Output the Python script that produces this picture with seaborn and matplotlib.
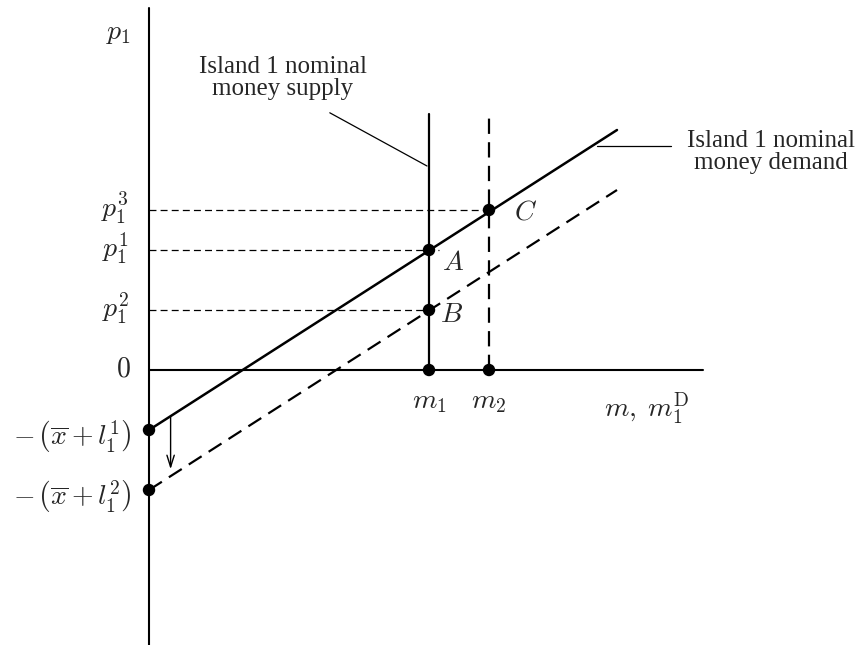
"""
Island 1 money market: nominal money supply vs nominal money demand,
and the shift of demand when l_1 rises from l_1^1 to l_1^2.

Saves out.png (860x645).
"""

import matplotlib.pyplot as plt
import seaborn as sns

# money quantities on the horizontal axis
m_levels = [7.0, 8.5]                     # m_1, m_2
m_labels = [r"$m_1$", r"$m_2$"]

# demand lines (start at m = 0, end at m_end)
m_end = 11.7
demand_old = [-1.5, 6.0]                  # solid: intercept -(x + l_1^1)
demand_new = [-3.0, 4.5]                  # dashed: intercept -(x + l_1^2)
intercept_labels = [r"$-\,\left(\overline{x}+l_1^1\right)$",
                    r"$-\,\left(\overline{x}+l_1^2\right)$"]

# equilibrium prices
price_names = ["A", "B", "C"]
price_m = [7.0, 7.0, 8.5]
price_p = [3.0, 1.5, 4.0]
price_ticks = [r"$p_1^1$", r"$p_1^2$", r"$p_1^3$"]

supply_top = 6.4

sns.set_theme(style="white")
plt.rcParams["font.family"] = ["Liberation Serif", "DejaVu Serif"]
plt.rcParams["mathtext.fontset"] = "cm"
plt.rcParams["lines.scale_dashes"] = False

INK = "black"
MATH_FS = 20
TEXT_FS = 18
THIN_DASH = (0, (5, 3))
THICK_DASH = (0, (11, 6))

fig = plt.figure(figsize=(8.6, 6.45), dpi=100)
ax = fig.add_axes([0, 0, 1, 1])
ax.set_xlim(-3.725, 17.775)
ax.set_ylim(-6.875, 9.25)
ax.set_axis_off()

# axes of the diagram
sns.lineplot(x=[0, 0], y=[-7.0, 9.05], color=INK, lw=1.5,
             estimator=None, sort=False, ax=ax)
sns.lineplot(x=[0, 13.85], y=[0, 0], color=INK, lw=1.5,
             estimator=None, sort=False, ax=ax)

# guide lines from price axis to the equilibria
sns.lineplot(x=[0, price_m[0] + 0.25], y=[price_p[0]] * 2, color=INK,
             lw=0.9, linestyle=THIN_DASH, estimator=None, sort=False, ax=ax)
sns.lineplot(x=[0, price_m[1]], y=[price_p[1]] * 2, color=INK,
             lw=0.9, linestyle=THIN_DASH, estimator=None, sort=False, ax=ax)
sns.lineplot(x=[0, price_m[2]], y=[price_p[2]] * 2, color=INK,
             lw=0.9, linestyle=THIN_DASH, estimator=None, sort=False, ax=ax)

# money supply: m_1 solid, m_2 dashed
sns.lineplot(x=[m_levels[0]] * 2, y=[0, supply_top], color=INK, lw=1.6,
             estimator=None, sort=False, ax=ax)
sns.lineplot(x=[m_levels[1]] * 2, y=[0, supply_top], color=INK, lw=1.6,
             linestyle=THICK_DASH, estimator=None, sort=False, ax=ax)

# money demand before and after
sns.lineplot(x=[0, m_end], y=demand_old, color=INK, lw=1.8,
             estimator=None, sort=False, ax=ax)
sns.lineplot(x=[0, m_end], y=demand_new, color=INK, lw=1.6,
             linestyle=THICK_DASH, estimator=None, sort=False, ax=ax)

# dots
dot_x = price_m + m_levels + [0, 0]
dot_y = price_p + [0, 0] + [demand_old[0], demand_new[0]]
sns.scatterplot(x=dot_x, y=dot_y, color=INK, s=80, edgecolor="none",
                zorder=5, ax=ax)

# shift arrow
ax.annotate("", xy=(0.54, -2.48), xytext=(0.54, -1.18),
            arrowprops=dict(arrowstyle="->,head_length=0.7,head_width=0.22",
                            color=INK, lw=1.0, shrinkA=0, shrinkB=0))

# price-axis labels
ax.text(-0.45, 8.4, r"$p_1$", fontsize=MATH_FS, ha="right", va="center")
ax.text(-0.45, 0, r"$0$", fontsize=MATH_FS, ha="right", va="center")
for p, lab in zip(price_p, price_ticks):
    ax.text(-0.5, p + 0.05, lab, fontsize=MATH_FS, ha="right", va="center")
for y0, lab in zip([demand_old[0], demand_new[0]], intercept_labels):
    ax.text(-0.45, y0 - 0.15, lab, fontsize=MATH_FS, ha="right", va="center")

# money-axis labels
for m, lab in zip(m_levels, m_labels):
    ax.text(m, -0.5, lab, fontsize=MATH_FS, ha="center", va="top")
ax.text(12.45, -0.5, r"$m,\;m_1^{\mathrm{D}}$", fontsize=MATH_FS,
        ha="center", va="top")

# equilibrium letters
letter_off = {"A": (0.33, -0.33), "B": (0.27, -0.15), "C": (0.62, -0.08)}
for name, m, p in zip(price_names, price_m, price_p):
    dx, dy = letter_off[name]
    ax.text(m + dx, p + dy, rf"$\mathit{{{name}}}$", fontsize=MATH_FS,
            ha="left", va="center")

# curve captions with leader lines
ax.text(3.35, 7.3, "Island 1 nominal\nmoney supply", fontsize=TEXT_FS,
        ha="center", va="center", linespacing=1.05)
sns.lineplot(x=[4.52, 6.95], y=[6.43, 5.1], color=INK, lw=0.9,
             estimator=None, sort=False, ax=ax)
ax.text(15.55, 5.45, "Island 1 nominal\nmoney demand", fontsize=TEXT_FS,
        ha="center", va="center", linespacing=1.05)
sns.lineplot(x=[11.2, 13.05], y=[5.6, 5.6], color=INK, lw=0.9,
             estimator=None, sort=False, ax=ax)

fig.savefig("out.png", dpi=100)
plt.close(fig)
